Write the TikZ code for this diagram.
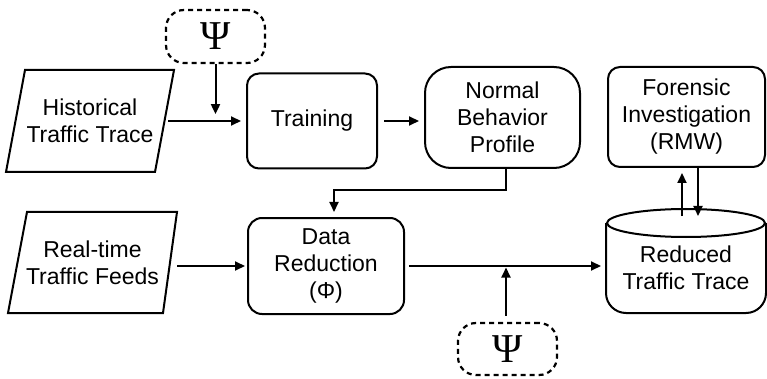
\documentclass[tikz,border=0pt]{standalone}
\usepackage{fontspec}
\setmainfont{Liberation Sans}
\newfontfamily\psifont{Liberation Serif}
\usetikzlibrary{arrows.meta,calc}

\begin{document}
\begin{tikzpicture}[x=1pt,y=-1pt,
  font=\fontsize{23}{27}\selectfont,
  line width=2pt,
  box/.style={draw, rounded corners=12pt, align=center, inner sep=0pt},
  slanted/.style={align=center, inner sep=0pt},
  param/.style={draw, line width=2.2pt, dash pattern=on 5pt off 4pt, rounded corners=18pt,
    inner sep=0pt, font=\psifont\fontsize{41}{41}\selectfont},
  arr/.style={-{Triangle[length=10pt,width=9pt]}},
]
\useasboundingbox (0,0) rectangle (767,379);

% input data sources (parallelograms drawn around plain nodes)
\node[slanted, minimum width=166pt, minimum height=100pt] (hist) at (90,121) {Historical\\Traffic Trace};
\draw (hist.south west) -- ([xshift=19pt]hist.north west) -- (hist.north east)
      -- ([xshift=-19pt]hist.south east) -- cycle;
\node[slanted, minimum width=167pt, minimum height=99pt] (feed) at (92.5,262.5) {Real-time\\Traffic Feeds};
\draw (feed.south west) -- ([xshift=19pt]feed.north west) -- (feed.north east)
      -- ([xshift=-14pt]feed.south east) -- cycle;

% processing blocks
\node[box, minimum width=130pt, minimum height=95pt] (train) at (312,121) {Training};
\node[box, rounded corners=26pt, minimum width=155pt, minimum height=101pt] (nbp) at (502.5,117.5) {Normal\\Behavior\\Profile};
\node[box, minimum width=157pt, minimum height=100pt] (fore) at (686.5,117) {Forensic\\Investigation\\(RMW)};
\node[box, rounded corners=14pt, minimum width=156pt, minimum height=96pt] (dr) at (326,266) {Data\\Reduction\\(Φ)};

% parameter inputs
\node[param, minimum width=99pt, minimum height=53pt] (psiA) at (215.5,36.5) {Ψ};
\node[param, minimum width=99pt, minimum height=52pt] (psiB) at (507.5,349) {Ψ};

% reduced trace store (cylinder)
\node[slanted, minimum width=158pt, minimum height=88pt] (rtt) at (686,268) {Reduced\\Traffic Trace};
\draw (rtt.north west) -- ([yshift=20pt]rtt.south west)
      arc[start angle=180, end angle=270, radius=20pt]
      -- ([xshift=-20pt]rtt.south east)
      arc[start angle=270, end angle=360, radius=20pt]
      -- (rtt.north east);
\draw (rtt.north) ellipse [x radius=79pt, y radius=14pt];

% connectors
\coordinate (psiAend) at ($(psiA.south)+(0,50)$);
\draw[arr] (psiA.south) -- (psiAend);
\draw[arr, shorten >=5pt] ([xshift=-6pt]hist.east) -- (hist.east -| train.west);
\draw[arr, shorten <=6pt, shorten >=5pt] (train.east) -- (train.east -| nbp.west);
\draw[arr, shorten >=5pt] ([xshift=3.5pt]nbp.south) -- ++(0,21) -| ([xshift=8pt]dr.north);
\draw[arr, shorten <=4pt, shorten >=2pt] ([xshift=-4pt]dr.west -| feed.east) -- (dr.west);
\draw[arr, shorten <=4pt, shorten >=5pt] (dr.east) -- (dr.east -| rtt.west);
\draw[arr, shorten <=6pt, shorten >=1.5pt] ([xshift=-1.5pt]psiB.north) -- ([xshift=-1.5pt]psiB.north |- dr.east);
\coordinate (upfoot) at ([xshift=-4pt,yshift=7pt]rtt.north);
\coordinate (downfoot) at ([xshift=12pt,yshift=7pt]rtt.north);
\draw[arr, shorten >=5pt] (upfoot) -- (upfoot |- fore.south);
\draw[arr] (downfoot |- fore.south) -- (downfoot);
\end{tikzpicture}
\end{document}
